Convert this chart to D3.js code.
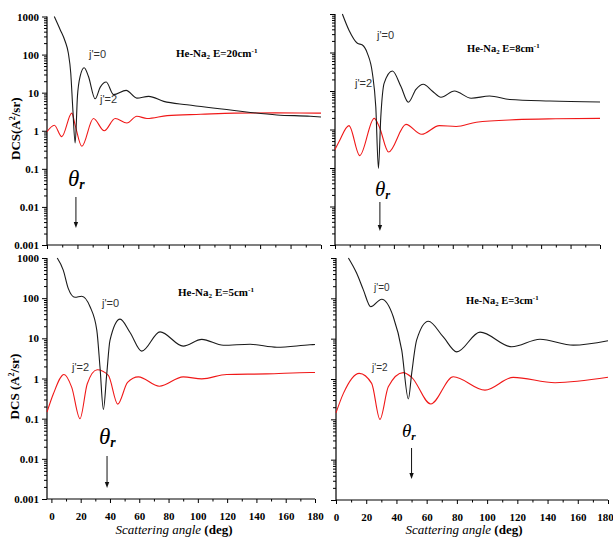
<!DOCTYPE html>
<html>
<head>
<meta charset="utf-8">
<script src="https://cdn.jsdelivr.net/npm/d3@7"></script>
<style>
  html, body { margin: 0; padding: 0; background: #fff; }
  svg { display: block; }
</style>
</head>
<body>
<svg id="chart" width="613" height="538"></svg>
<script>
// Differential cross sections (A^2/sr) vs scattering angle (deg), He-Na2 collisions
// [angle, DCS] pairs for the j'=0 and j'=2 final rotational states
const energies = [20, 8, 5, 3];           // collision energy, cm^-1
const thetaR = [19, 30.5, 38, 50];         // rainbow angle marked by the arrow, deg

const dcsJ0_E20 = [[4.8,1000],[8.6,457],[11.9,224],[14,110],[15.6,33],[17,3.5],[18.5,0.48],[20,8],[21.8,27],[24.4,45],[27.2,27],[31.6,6.9],[35,14],[38.9,19],[43.7,8.9],[52,11.5],[59,7.2],[66.8,8],[76.7,5.9],[92,4.8],[123,3.4],[151,2.6],[173,2.4],[180,2.3]];
const dcsJ2_E20 = [[0,0.95],[4.8,1.4],[9.7,0.7],[16.3,2.9],[18.5,1.4],[22.9,0.39],[30.5,2.1],[37.6,1.0],[44.8,2.1],[52.5,1.6],[59,2.4],[65.7,2.1],[79,2.5],[101,2.7],[123,2.9],[150,2.95],[180,2.9]];

const dcsJ0_E8 = [[5,1000],[9.5,380],[15.2,174],[18.6,156],[22,95],[25.4,29],[27.7,3.9],[29.5,0.098],[31.1,2.1],[33.4,16],[39,33],[44.8,13],[49.8,5.1],[55,11],[60,15],[66,10],[72,6.9],[81.1,10],[92.5,6.5],[105,7.4],[118.7,6],[146,5.5],[180,5.2]];
const dcsJ2_E8 = [[0,0.3],[2.7,0.48],[9.5,1.26],[16.8,0.21],[26.6,1.95],[30,1.2],[36.4,0.26],[48.2,1.36],[58.8,0.75],[70.9,1.26],[82.3,1.2],[96,1.55],[123,1.8],[150,1.9],[180,1.95]];

const dcsJ0_E5 = [[4,1000],[8.1,500],[11.5,175],[16.1,105],[20.7,112],[26.4,61],[31,16],[33.2,1.9],[35.5,0.17],[37.8,1.3],[40,8.9],[46.9,30],[53.7,14],[61.7,4.8],[74.2,14.5],[90,6.4],[102.7,9.4],[117.4,6.7],[135.7,7.1],[154,6.0],[176.6,6.9],[180,7]];
const dcsJ2_E5 = [[-3,0.145],[1.3,0.41],[8.6,1.26],[13.9,0.6],[19.5,0.1],[24.5,0.74],[31.3,1.65],[38.9,1.19],[45.3,0.23],[52,0.8],[59.4,1.1],[73.7,0.64],[90,1.1],[102.7,0.98],[119.7,1.26],[147,1.3],[176.6,1.41],[180,1.41]];

const dcsJ0_E3 = [[8.2,1000],[13.7,417],[18.1,162],[23,62],[30.2,95],[37.9,35],[43.5,5.2],[47.9,0.32],[50.1,1.4],[53.4,9.3],[61.1,27],[71,11],[79.9,4.7],[95.3,14.5],[116.3,6.3],[135,9.7],[157,6.9],[180,8.9]];
const dcsJ2_E3 = [[0,0.145],[4.9,0.44],[15.4,1.38],[23.6,0.78],[29.1,0.1],[34.6,0.64],[44.5,1.44],[50.1,1.1],[62.7,0.24],[77.6,1.14],[98.6,0.53],[117.3,1.1],[145,0.81],[180,1.1]];

const yMajorTicks = [1000, 100, 10, 1, 0.1, 0.01, 0.001];
const yTickLabels = ["1000", "100", "10", "1", "0.1", "0.01", "0.001"];
const xMajorTicks = [0, 20, 40, 60, 80, 100, 120, 140, 160, 180];
const xTickLabels = ["0", "20", "40", "60", "80", "100", "120", "140", "160", "180"];

const SERIF = "'Liberation Serif', 'Times New Roman', Times, serif";
const SANS = "'Liberation Sans', Arial, Helvetica, sans-serif";

// Panel geometry and annotation placement
const panels = [
  { j0: dcsJ0_E20, j2: dcsJ2_E20, x0: 47, x1: 321, yTop: 16.5, yBot: 245, xDom: [0, 180], yLab: true, xLab: false,
    title: [176, 57], tsize: 11, j0lab: [89, 58], j2lab: [100, 103], jsize: 11,
    theta: [68, 186], thsize: 23, arrow: [197, 228] },
  { j0: dcsJ0_E8, j2: dcsJ2_E8, x0: 335, x1: 600, yTop: 14, yBot: 245, xDom: [0, 180], yLab: false, xLab: false,
    title: [467, 52], tsize: 10.5, j0lab: [377, 39], j2lab: [355, 87], jsize: 11,
    theta: [375, 196], thsize: 21, arrow: [202, 231] },
  { j0: dcsJ0_E5, j2: dcsJ2_E5, x0: 47, x1: 315, yTop: 258, yBot: 499, xDom: [-3, 180], yLab: true, xLab: true,
    title: [178, 296], tsize: 11, j0lab: [102, 307], j2lab: [72, 371], jsize: 11,
    theta: [99, 444], thsize: 23, arrow: [456, 488] },
  { j0: dcsJ0_E3, j2: dcsJ2_E3, x0: 336, x1: 608, yTop: 258, yBot: 500, xDom: [0, 180], yLab: false, xLab: true,
    title: [466, 304], tsize: 10.5, j0lab: [374, 291], j2lab: [372, 371], jsize: 10,
    theta: [402, 437], thsize: 19, arrow: [448, 479] }
];

const svg = d3.select("#chart");

const minorY = [];
for (let k = -3; k < 3; k++) for (let m = 2; m < 10; m++) minorY.push(m * Math.pow(10, k));
const minorX = [10, 30, 50, 70, 90, 110, 130, 150, 170];

panels.forEach((p, i) => {
  const x = d3.scaleLinear().domain(p.xDom).range([p.x0, p.x1]);
  const y = d3.scaleLog().domain([0.001, 1000]).range([p.yBot, p.yTop]);
  const g = svg.append("g");

  // y axis: decades with labels, minor log ticks
  const yAxis = d3.axisLeft(y).tickValues(yMajorTicks).tickSize(5).tickPadding(3)
    .tickFormat((d, k) => p.yLab ? yTickLabels[k] : "");
  const ya = g.append("g").attr("transform", `translate(${p.x0},0)`).call(yAxis);
  g.append("g").attr("transform", `translate(${p.x0},0)`)
    .call(d3.axisLeft(y).tickValues(minorY).tickSize(3).tickFormat(""))
    .select(".domain").remove();

  // x axis
  const xAxis = d3.axisBottom(x).tickValues(xMajorTicks).tickSize(4).tickPadding(9)
    .tickFormat((d, k) => p.xLab ? xTickLabels[k] : "");
  const xa = g.append("g").attr("transform", `translate(0,${p.yBot})`).call(xAxis);
  g.append("g").attr("transform", `translate(0,${p.yBot})`)
    .call(d3.axisBottom(x).tickValues(minorX).tickSize(2.5).tickFormat(""))
    .select(".domain").remove();

  // plain axis lines without end caps
  ya.select(".domain").attr("d", `M0,${p.yTop}V${p.yBot}`).attr("stroke", "#000").attr("stroke-width", 1.2);
  xa.select(".domain").attr("d", `M${p.x0},0H${p.x1}`).attr("stroke", "#000").attr("stroke-width", 1.2);
  g.selectAll(".tick line").attr("stroke", "#000").attr("stroke-width", 1);
  g.selectAll(".tick text").style("font-family", SERIF).attr("font-weight", "bold")
    .attr("font-size", 11).attr("fill", "#000");
  if (i === 3) {
    // keep the last label inside the window
    xa.selectAll(".tick text").filter((d) => d === 180).attr("x", -3);
  }

  const line = d3.line().x(d => x(d[0])).y(d => y(d[1])).curve(d3.curveMonotoneX);
  g.append("path").datum(p.j2).attr("d", line)
    .attr("fill", "none").attr("stroke", "#f01818").attr("stroke-width", 1.1);
  g.append("path").datum(p.j0).attr("d", line)
    .attr("fill", "none").attr("stroke", "#1a1a1a").attr("stroke-width", 1.1);

  // panel title
  const t = g.append("text").style("font-family", SERIF).attr("font-weight", "bold")
    .attr("font-size", p.tsize).attr("x", p.title[0]).attr("y", p.title[1]);
  t.append("tspan").text("He-Na");
  t.append("tspan").attr("font-size", p.tsize * 0.65).attr("dy", 2).text("2");
  t.append("tspan").attr("dy", -2).text(` E=${energies[i]}cm`);
  t.append("tspan").attr("font-size", p.tsize * 0.65).attr("dy", -4).text("-1");

  // state labels
  g.append("text").style("font-family", SANS).attr("font-size", p.jsize).attr("fill", "#333")
    .attr("x", p.j0lab[0]).attr("y", p.j0lab[1]).text("j'=0");
  g.append("text").style("font-family", SANS).attr("font-size", p.jsize).attr("fill", "#333")
    .attr("x", p.j2lab[0]).attr("y", p.j2lab[1]).text("j'=2");

  // rainbow angle marker with downward arrow
  const th = g.append("text").style("font-family", SERIF).attr("font-style", "italic")
    .attr("font-size", p.thsize).attr("x", p.theta[0]).attr("y", p.theta[1]);
  th.append("tspan").text("θ");
  th.append("tspan").attr("font-size", p.thsize * 0.6).attr("font-weight", "bold").attr("dy", 3).text("r");
  const ax = x(thetaR[i]);
  g.append("line").attr("x1", ax).attr("x2", ax)
    .attr("y1", p.arrow[0]).attr("y2", p.arrow[1] - 4)
    .attr("stroke", "#111").attr("stroke-width", 1);
  g.append("path")
    .attr("d", `M${ax - 2.2},${p.arrow[1] - 6}L${ax + 2.2},${p.arrow[1] - 6}L${ax},${p.arrow[1]}Z`)
    .attr("fill", "#111");

  // axis titles
  if (p.yLab) {
    const cy = (p.yTop + p.yBot) / 2 + (i === 0 ? -2 : 8);
    const yt = g.append("text").style("font-family", SERIF).attr("font-weight", "bold").attr("font-size", 13)
      .attr("text-anchor", "middle")
      .attr("transform", `translate(${i === 0 ? 20 : 19},${cy}) rotate(-90)`);
    yt.append("tspan").text(i === 0 ? "DCS(A" : "DCS (A");
    yt.append("tspan").attr("font-size", 8).attr("dy", -5).text("2");
    yt.append("tspan").attr("dy", 5).text("/sr)");
  }
  if (p.xLab) {
    const xt = g.append("text").style("font-family", SERIF).attr("font-size", 13)
      .attr("text-anchor", "middle").attr("x", (p.x0 + p.x1) / 2 + (i === 2 ? -7 : -8)).attr("y", 534);
    xt.append("tspan").attr("font-style", "italic").text("Scattering angle");
    xt.append("tspan").attr("font-weight", "bold").text(" (deg)");
  }
});
</script>
</body>
</html>
